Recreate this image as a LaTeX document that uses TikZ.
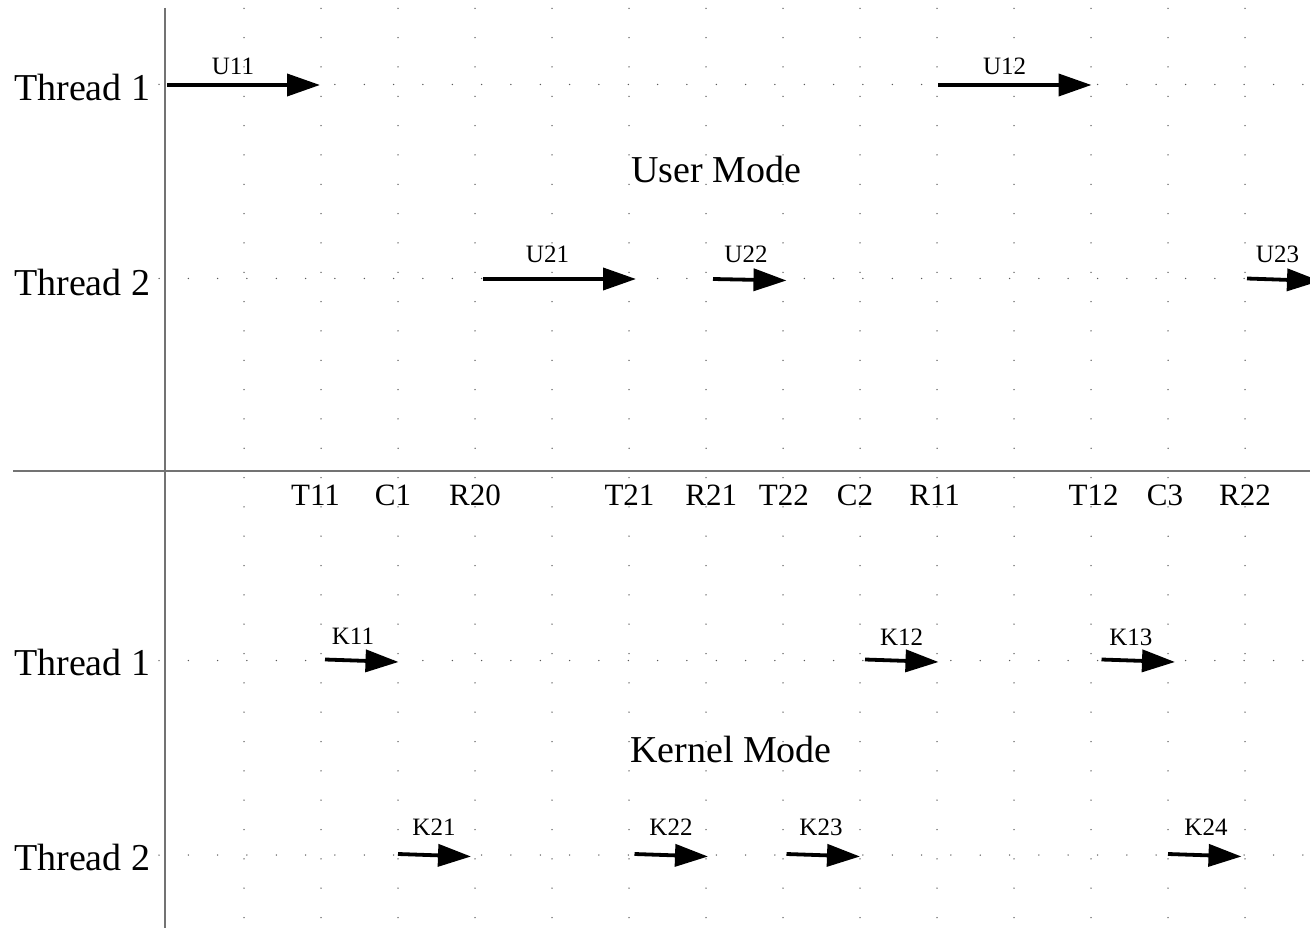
\documentclass[tikz,border=0pt]{standalone}
\usepackage{fontspec}
\setmainfont{Liberation Serif}
\usetikzlibrary{arrows.meta}
\begin{document}
\begin{tikzpicture}[x=1pt,y=-1pt,
  axis/.style={draw=black!55, line width=1.3pt},
  flow/.style={line width=3.8pt, -{Triangle[length=33pt,width=22pt]}},
  big/.style={font=\fontsize{38}{40}\selectfont, inner sep=0pt, anchor=base},
  ev/.style={font=\fontsize{31}{33}\selectfont, inner sep=0pt, anchor=base},
  lab/.style={font=\fontsize{25}{27}\selectfont, inner sep=0pt, anchor=base},
  gdot/.style={fill=black!65}]
\clip (0,0) rectangle (1310,928);
\useasboundingbox (0,0) rectangle (1310,928);
\fill[white] (0,0) rectangle (1310,928);
% grid dots
\foreach \i in {0,...,13}
  \foreach \k in {0,...,31}
    \fill[gdot] ({244+77*\i},{8.3+29.33*\k}) circle (0.75);
\foreach \yy in {84.5,278.5,660.5,855}
  \foreach \k in {0,...,39}
    \fill[gdot] ({159+29.33*\k},\yy) circle (0.75);
% axes
\coordinate (vtop) at (165,8);
\coordinate (vbot) at (165,928);
\coordinate (hl) at (13,471);
\coordinate (hr) at (1310,471);
\draw[axis] (vtop) -- (vbot);
\draw[axis] (hl) -- (hr);
% thread labels
\node[big, anchor=base west] (ut1) at (14,101) {Thread 1};
\node[big, anchor=base west] (ut2) at (14,295) {Thread 2};
\node[big, anchor=base west] (kt1) at (14,675.5) {Thread 1};
\node[big, anchor=base west] (kt2) at (14,870.5) {Thread 2};
\node[big] (um) at (716,183) {User Mode};
\node[big] (km) at (731,762) {Kernel Mode};
% event labels
\node[ev] (T11) at (315.5,505) {T11};
\node[ev] (C1) at (393,505) {C1};
\node[ev] (R20) at (475,505) {R20};
\node[ev] (T21) at (629.5,505) {T21};
\node[ev] (R21) at (711.3,505) {R21};
\node[ev] (T22) at (783.8,505) {T22};
\node[ev] (C2) at (855,505) {C2};
\node[ev] (R11) at (934.7,505) {R11};
\node[ev] (T12) at (1093.7,505) {T12};
\node[ev] (C3) at (1165,505) {C3};
\node[ev] (R22) at (1245,505) {R22};
% user arrows
\coordinate (u11a) at (167,85);   \coordinate (u11b) at (320,85);
\coordinate (u12a) at (938,85);   \coordinate (u12b) at (1091.5,85);
\coordinate (u21a) at (483,279);  \coordinate (u21b) at (636,279);
\coordinate (u22a) at (713,279);  \coordinate (u22b) at (786.5,280.5);
\coordinate (u23a) at (1247,278.5); \coordinate (u23b) at (1320,281);
\draw[flow] (u11a) -- (u11b);
\draw[flow] (u12a) -- (u12b);
\draw[flow] (u21a) -- (u21b);
\draw[flow] (u22a) -- (u22b);
\draw[flow] (u23a) -- (u23b);
\node[lab] (U11) at (233,75) {U11};
\node[lab] (U12) at (1004.7,75) {U12};
\node[lab] (U21) at (547.5,262) {U21};
\node[lab] (U22) at (746,262) {U22};
\node[lab] (U23) at (1277.5,262) {U23};
% kernel arrows
\coordinate (k11a) at (325,659.5);  \coordinate (k11b) at (398.5,662);
\coordinate (k12a) at (865,659.5);  \coordinate (k12b) at (938.5,662);
\coordinate (k13a) at (1101.5,659.5); \coordinate (k13b) at (1175,662);
\coordinate (k21a) at (398,854);    \coordinate (k21b) at (471,856.5);
\coordinate (k22a) at (634.5,854);  \coordinate (k22b) at (708,856.5);
\coordinate (k23a) at (786.5,854);  \coordinate (k23b) at (860,856.5);
\coordinate (k24a) at (1168,854);   \coordinate (k24b) at (1241.5,856.5);
\draw[flow] (k11a) -- (k11b);
\draw[flow] (k12a) -- (k12b);
\draw[flow] (k13a) -- (k13b);
\draw[flow] (k21a) -- (k21b);
\draw[flow] (k22a) -- (k22b);
\draw[flow] (k23a) -- (k23b);
\draw[flow] (k24a) -- (k24b);
\node[lab] (K11) at (353,644.5) {K11};
\node[lab] (K12) at (901.7,645.5) {K12};
\node[lab] (K13) at (1130.8,645.5) {K13};
\node[lab] (K21) at (434,835) {K21};
\node[lab] (K22) at (671,835) {K22};
\node[lab] (K23) at (821,835) {K23};
\node[lab] (K24) at (1206,835) {K24};
\end{tikzpicture}
\end{document}
